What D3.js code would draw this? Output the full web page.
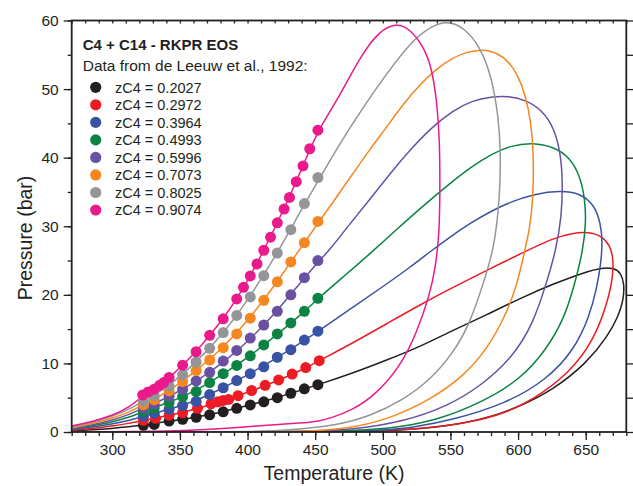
<!DOCTYPE html>
<html>
<head>
<meta charset="utf-8">
<script src="https://cdn.jsdelivr.net/npm/d3@7"></script>
<style>
  html, body { margin: 0; padding: 0; background: #fff; }
  svg { display: block; font-family: "Liberation Sans", Arial, sans-serif; }
</style>
</head>
<body>
<svg id="chart" width="633" height="486"></svg>
<script>
// ---- Mixture compositions and series colours ----
const compositions = ["0.2027", "0.2972", "0.3964", "0.4993", "0.5996", "0.7073", "0.8025", "0.9074"];
const seriesColors = ["#231f20", "#ed1c24", "#3953a4", "#0b8443", "#6a50a2", "#f6861f", "#939598", "#ea1a8c"];

// ---- Experimental bubble points (T in K, P in bar) ----
const expT = [323, 331, 342, 352, 362, 372, 382, 392, 402, 412, 422, 432, 442, 452];
const expP_2027 = [0.97, 1.1, 1.6, 1.85, 2.15, 2.5, 2.95, 3.45, 3.95, 4.4, 5.0, 5.65, 6.3, 6.9];
const expT_2972 = [323, 332, 342, 352, 363, 373, 378, 382, 386, 393, 403, 413, 423, 433, 443, 453];
const expP_2972 = [1.7, 2.0, 2.45, 2.8, 3.45, 4.1, 4.4, 4.6, 4.75, 5.3, 6.05, 6.8, 7.6, 8.45, 9.4, 10.4];
const expP_3964 = [2.3, 2.75, 3.3, 3.85, 4.45, 5.45, 6.45, 7.5, 8.5, 9.5, 10.9, 12.0, 13.4, 14.7];
const expP_4993 = [3.0, 3.5, 4.3, 5.15, 5.9, 7.2, 8.5, 9.7, 11.1, 12.7, 14.3, 15.9, 17.6, 19.5];
const expP_5996 = [3.5, 4.1, 5.2, 6.2, 7.45, 8.7, 10.35, 11.9, 13.7, 15.6, 17.6, 20.0, 22.5, 25.0];
const expP_7073 = [3.95, 4.7, 6.0, 7.35, 8.95, 10.5, 12.3, 14.3, 16.6, 19.2, 21.9, 24.8, 27.6, 30.7];
const expP_8025 = [4.5, 5.3, 6.7, 8.35, 10.2, 12.2, 14.5, 17.0, 19.7, 22.8, 26.1, 29.5, 33.3, 37.1];
const expT_9074 = [322.5, 326.5, 331, 335, 338, 342, 352, 362, 372, 382, 392, 397, 402, 407, 412, 417, 422, 427, 431, 436, 441, 446, 452];
const expP_9074 = [5.4, 5.85, 6.25, 6.8, 7.2, 7.95, 9.75, 11.7, 14.1, 16.5, 19.4, 21.1, 22.75, 24.5, 26.5, 28.4, 30.5, 32.5, 34.2, 36.5, 38.8, 41.3, 44.0];

// ---- RKPR phase envelopes: bubble branch -> critical region -> dew branch ----
const env_2027 = [[270,0.15],[285,0.3],[300,0.52],[312,0.75],[323,1.0],[340,1.5],[360,2.1],[380,2.85],[400,3.85],[420,4.9],[440,6.15],[453,6.95],[478,8.6],[503,10.5],[527,12.4],[552,14.85],[577,17.1],[601,19.45],[626,21.6],[650,23.35],[662,23.95],[671,23.9],[676,23.2],[678.5,21.6],[678,19.3],[674,16.8],[666,13.9],[651,10.1],[626,6.15],[601,3.7],[580,2.2],[560,1.3],[540,0.7],[515,0.3],[490,0.12],[450,0.03],[400,0.0],[270,0.0]];
const env_2972 = [[270,0.25],[285,0.5],[300,0.85],[312,1.25],[323,1.7],[340,2.35],[360,3.2],[380,4.45],[400,5.75],[420,7.3],[440,9.0],[454,10.5],[478,13.0],[503,15.8],[527,18.5],[552,21.1],[577,23.6],[601,25.9],[626,28.3],[640,29.0],[652,29.2],[662,28.6],[668,27.2],[670.5,25.2],[670,22.5],[666,18.8],[656,13.4],[638,8.6],[611,4.7],[590,2.75],[572,1.75],[545,0.8],[515,0.3],[480,0.08],[430,0.0],[270,0.0]];
const env_3964 = [[270,0.33],[285,0.7],[300,1.15],[312,1.65],[323,2.3],[340,3.2],[360,4.35],[380,6.25],[400,8.3],[420,10.6],[440,13.1],[453,14.8],[478,18.2],[503,21.6],[520,24.0],[535,26.3],[550,28.5],[565,30.5],[580,32.2],[595,33.6],[612,34.7],[631,35.2],[646,34.8],[656,33.2],[661,30.6],[662.5,27.5],[661,24.3],[658,20.8],[652.6,16.8],[641.6,12.0],[621,7.6],[591.6,4.2],[552,1.75],[520,0.6],[503,0.3],[460,0.05],[400,0.0],[270,0.0]];
const env_4993 = [[270,0.42],[285,0.9],[300,1.45],[312,2.1],[323,3.0],[340,4.15],[360,5.8],[380,8.2],[400,10.8],[420,13.9],[440,17.2],[453,19.6],[470,22.5],[490,25.9],[510,29.5],[530,33.0],[550,36.3],[565,38.6],[580,40.5],[595,41.8],[611,42.2],[626,41.6],[638,40.1],[645.5,37.5],[649.5,34.0],[650.2,30.5],[648,26.5],[642,21.7],[634.7,16.8],[621,12.0],[601.4,7.6],[572,4.2],[540,1.75],[515,0.8],[490,0.3],[450,0.05],[400,0.0],[270,0.0]];
const env_5996 = [[270,0.5],[285,1.05],[300,1.7],[312,2.5],[323,3.5],[340,4.9],[360,7.1],[380,9.8],[400,13.1],[420,17.2],[440,22.0],[453,25.0],[461,26.6],[475,30.2],[490,33.8],[505,37.6],[520,41.1],[536,44.4],[552,46.9],[566,48.3],[580,48.9],[593,49.0],[606,48.4],[618,46.9],[627,44.2],[631.5,40.5],[633,36.5],[632.2,31.4],[628,26.5],[621,21.7],[611.2,15.85],[596.5,11.0],[572,6.6],[547,3.7],[515,1.5],[478,0.3],[440,0.05],[400,0.0],[270,0.0]];
const env_7073 = [[270,0.58],[285,1.2],[300,2.0],[312,2.85],[323,3.95],[340,5.7],[360,8.6],[380,11.9],[400,16.15],[420,21.35],[440,27.05],[453,30.7],[466,34.3],[478,37.7],[490,41.1],[503,44.5],[515,47.8],[527,50.6],[540,53.0],[552,54.6],[562,55.4],[571,55.7],[580,55.6],[589,54.8],[597,53.0],[603,50.6],[607.5,47.4],[610.5,43.5],[611.5,39.0],[611,33.8],[608.5,29.5],[605,26.5],[599,21.2],[590.3,16.8],[576.8,12.0],[559.5,8.1],[535,4.67],[503,1.75],[473,0.44],[440,0.08],[400,0.0],[270,0.0]];
const env_8025 = [[270,0.7],[285,1.4],[300,2.3],[312,3.25],[323,4.5],[340,6.4],[360,9.8],[380,13.8],[400,19.15],[420,25.4],[440,32.5],[453.6,37.1],[468.4,42.1],[485.6,47.4],[503,52.3],[520,56.7],[535,59.1],[547,59.95],[559.5,59.1],[572,56.2],[580.5,51.8],[585.4,46.0],[587.2,41.1],[586.5,33.8],[582,26.5],[574.3,21.7],[564.5,15.85],[552,11.5],[535,7.6],[515,4.67],[490.5,2.3],[466,0.95],[430,0.25],[400,0.05],[360,0.0],[270,0.0]];
const env_9074 = [[270,0.87],[285,1.5],[300,2.4],[312,3.5],[322.5,5.3],[335,6.7],[342,7.9],[352,9.75],[362,11.7],[372,14.1],[382,16.5],[392,19.4],[402,22.75],[412,26.5],[422,30.5],[431,34.3],[441,38.8],[452,44.0],[468,48.9],[483,54.7],[498,58.6],[510,59.6],[520,58.8],[530,56.2],[536,53.3],[540,48.2],[542,42.6],[542.3,35.8],[541.8,29.0],[539,24.1],[535,20.2],[525,14.4],[512.7,9.5],[495.5,5.6],[478,3.2],[461,2.0],[453,1.6],[440,1.3],[414,1.0],[390,0.6],[365,0.3],[320,0.05],[270,0.0]];

// ---- Axis ticks ----
const xMajorTicks = [300, 350, 400, 450, 500, 550, 600, 650];
const xMinorTicks = d3.range(270, 681, 10);
const yMajorTicks = [0, 10, 20, 30, 40, 50, 60];
const yMinorTicks = d3.range(0, 61, 5);

const texts = {
  title: "C4 + C14 - RKPR EOS",
  source: "Data from de Leeuw et al., 1992:",
  xLabel: "Temperature (K)",
  yLabel: "Pressure (bar)"
};

// ---- Assemble series ----
const envelopes = [env_2027, env_2972, env_3964, env_4993, env_5996, env_7073, env_8025, env_9074];
const expTs = [expT, expT_2972, expT, expT, expT, expT, expT, expT_9074];
const expPs = [expP_2027, expP_2972, expP_3964, expP_4993, expP_5996, expP_7073, expP_8025, expP_9074];
const series = compositions.map((z, i) => ({
  z, color: seriesColors[i],
  envelope: envelopes[i],
  points: expTs[i].map((t, k) => [t, expPs[i][k]])
}));

// ---- Layout ----
const svg = d3.select("#chart");
const plot = { left: 71.7, right: 626.3, top: 20.5, bottom: 432 };
const x = d3.scaleLinear().domain([270, 680]).range([plot.left, plot.right]);
const y = d3.scaleLinear().domain([0, 60]).range([plot.bottom, plot.top]);
const ink = "#231f20";

svg.append("rect").attr("width", 633).attr("height", 486).attr("fill", "#fff");

svg.append("clipPath").attr("id", "plotClip")
  .append("rect")
  .attr("x", plot.left).attr("y", plot.top)
  .attr("width", plot.right - plot.left).attr("height", plot.bottom - plot.top);

// ---- Envelope curves (B-spline smoothing through the computed nodes) ----
const line = d3.line()
  .x(d => x(d[0])).y(d => y(d[1]))
  .curve(d3.curveBasis);

const curves = svg.append("g").attr("clip-path", "url(#plotClip)");
curves.selectAll("path").data(series).join("path")
  .attr("d", d => line(d.envelope))
  .attr("fill", "none")
  .attr("stroke", d => d.color)
  .attr("stroke-width", 1.5);

// ---- Experimental points ----
const dots = svg.append("g");
series.forEach(s => {
  dots.append("g").selectAll("circle").data(s.points).join("circle")
    .attr("cx", d => x(d[0])).attr("cy", d => y(d[1]))
    .attr("r", 5.5).attr("fill", s.color);
});

// ---- Axes ----
function styleAxis(g) {
  g.select(".domain").remove();
  g.selectAll("line").attr("stroke", ink).attr("stroke-width", 1.3);
  g.selectAll("text").attr("fill", ink).attr("font-size", 15.5)
    .attr("font-family", "'Liberation Sans', Arial, sans-serif");
}

// bottom
svg.append("g").attr("transform", `translate(0,${plot.bottom})`)
  .call(d3.axisBottom(x).tickValues(xMinorTicks).tickSize(4).tickFormat(""))
  .call(styleAxis);
svg.append("g").attr("transform", `translate(0,${plot.bottom})`)
  .call(d3.axisBottom(x).tickValues(xMajorTicks).tickSize(8).tickPadding(4).tickFormat(d3.format("d")))
  .call(styleAxis);
// top
svg.append("g").attr("transform", `translate(0,${plot.top})`)
  .call(d3.axisTop(x).tickValues(xMinorTicks).tickSize(-3).tickFormat(""))
  .call(styleAxis);
// left
svg.append("g").attr("transform", `translate(${plot.left},0)`)
  .call(d3.axisLeft(y).tickValues(yMinorTicks).tickSize(4).tickFormat(""))
  .call(styleAxis);
svg.append("g").attr("transform", `translate(${plot.left},0)`)
  .call(d3.axisLeft(y).tickValues(yMajorTicks).tickSize(8).tickPadding(5).tickFormat(d3.format("d")))
  .call(styleAxis);
// right
svg.append("g").attr("transform", `translate(${plot.right},0)`)
  .call(d3.axisRight(y).tickValues(yMinorTicks).tickSize(7).tickFormat(""))
  .call(styleAxis);

// frame
svg.append("rect")
  .attr("x", plot.left).attr("y", plot.top)
  .attr("width", plot.right - plot.left).attr("height", plot.bottom - plot.top)
  .attr("fill", "none").attr("stroke", ink).attr("stroke-width", 1.8);

// axis titles
svg.append("text")
  .attr("x", 334).attr("y", 480)
  .attr("text-anchor", "middle").attr("font-size", 19.5).attr("fill", ink)
  .text(texts.xLabel);
svg.append("text")
  .attr("transform", "translate(31.5,238) rotate(-90)")
  .attr("text-anchor", "middle").attr("font-size", 19.5).attr("fill", ink)
  .text(texts.yLabel);

// ---- Legend ----
const legend = svg.append("g");
legend.append("text")
  .attr("x", 82.7).attr("y", 50)
  .attr("font-size", 15).attr("font-weight", "bold").attr("fill", ink)
  .text(texts.title);
legend.append("text")
  .attr("x", 82.7).attr("y", 70.7)
  .attr("font-size", 15.5).attr("fill", ink)
  .text(texts.source);
const rows = legend.selectAll("g.row").data(series).join("g")
  .attr("class", "row")
  .attr("transform", (d, i) => `translate(0,${87.3 + i * 17.53})`);
rows.append("circle").attr("cx", 95.7).attr("cy", 0).attr("r", 5.6).attr("fill", d => d.color);
rows.append("text")
  .attr("x", 115).attr("y", 5.2)
  .attr("font-size", 14.5).attr("fill", ink)
  .text(d => `zC4 = ${d.z}`);
</script>
</body>
</html>
